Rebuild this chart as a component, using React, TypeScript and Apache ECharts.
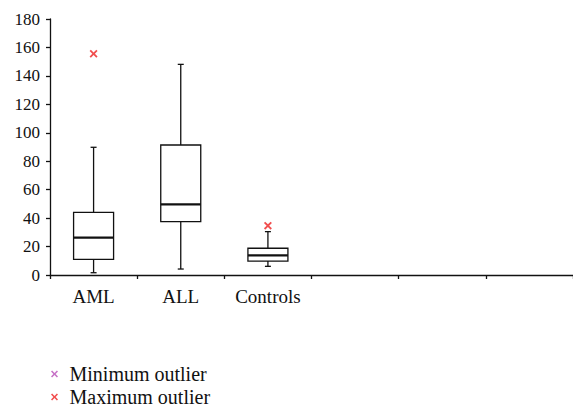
import React, { useEffect, useRef } from "react";
import * as echarts from "echarts";

const categories = ["AML", "ALL", "Controls", "", "", ""];
// [categoryIndex, min, q1, median, q3, max]
const boxData = [
  [0, 1.6, 11.0, 26.3, 44.1, 89.8],
  [1, 4.2, 37.5, 49.7, 91.4, 148.1],
  [2, 6.1, 9.8, 13.8, 18.8, 30.5],
];
const maxOutliers = [
  [0, 155.6],
  [2, 34.7],
];
const minOutliers: number[][] = [];
const yTicks = { min: 0, max: 180, interval: 20 };

const FONT = "Liberation Serif, DejaVu Serif, serif";
const X_PATH =
  "path://M0,1.6 L1.6,0 L5,3.4 L8.4,0 L10,1.6 L6.6,5 L10,8.4 L8.4,10 L5,6.6 L1.6,10 L0,8.4 L3.4,5 Z";

export default function App() {
  const ref = useRef<HTMLDivElement>(null);
  useEffect(() => {
    if (!ref.current) return;
    const chart = echarts.init(ref.current, undefined, { renderer: "svg" });
    chart.setOption({
      animation: false,
      backgroundColor: "#ffffff",
      textStyle: { fontFamily: FONT },
      grid: { left: 50, right: 0, top: 19, bottom: 134, containLabel: false },
      legend: {
        orient: "vertical",
        left: 46,
        top: 359,
        height: 60,
        itemWidth: 20,
        itemHeight: 7,
        itemGap: 3,
        textStyle: { fontFamily: FONT, fontSize: 20, color: "#111", lineHeight: 20 },
        data: [
          { name: "Minimum outlier", icon: X_PATH, itemStyle: { color: "#b84fb8" } },
          { name: "Maximum outlier", icon: X_PATH, itemStyle: { color: "#ee2222" } },
        ],
      },
      xAxis: {
        type: "category",
        data: categories,
        boundaryGap: true,
        axisLine: { lineStyle: { color: "#111", width: 1.3 } },
        axisTick: { show: true, length: 4, interval: 0, lineStyle: { color: "#111", width: 1.3 } },
        axisLabel: { fontFamily: FONT, fontSize: 19, color: "#111", margin: 12, interval: 0 },
        splitLine: { show: false },
      },
      yAxis: {
        type: "value",
        min: yTicks.min,
        max: yTicks.max,
        interval: yTicks.interval,
        axisLine: { show: true, lineStyle: { color: "#111", width: 1.3 } },
        axisTick: { show: true, length: 4, lineStyle: { color: "#111", width: 1.3 } },
        axisLabel: { fontFamily: FONT, fontSize: 17, color: "#111", margin: 10 },
        splitLine: { show: false },
      },
      series: [
        {
          type: "custom",
          name: "box",
          data: boxData,
          renderItem: (params: any, api: any) => {
            const idx = api.value(0);
            const vals = [1, 2, 3, 4, 5].map((i) => api.value(i));
            const pts = vals.map((v) => api.coord([idx, v]));
            const cx = pts[0][0];
            const half = 20;
            const cap = 3;
            const stroke = { stroke: "#111", lineWidth: 1.3, fill: "none" };
            return {
              type: "group",
              children: [
                { type: "line", shape: { x1: cx, y1: pts[0][1], x2: cx, y2: pts[1][1] }, style: stroke },
                { type: "line", shape: { x1: cx, y1: pts[3][1], x2: cx, y2: pts[4][1] }, style: stroke },
                { type: "line", shape: { x1: cx - cap, y1: pts[0][1], x2: cx + cap, y2: pts[0][1] }, style: stroke },
                { type: "line", shape: { x1: cx - cap, y1: pts[4][1], x2: cx + cap, y2: pts[4][1] }, style: stroke },
                {
                  type: "rect",
                  shape: { x: cx - half, y: pts[3][1], width: half * 2, height: pts[1][1] - pts[3][1] },
                  style: { stroke: "#111", lineWidth: 1.3, fill: "#fff" },
                },
                {
                  type: "line",
                  shape: { x1: cx - half, y1: pts[2][1], x2: cx + half, y2: pts[2][1] },
                  style: { stroke: "#111", lineWidth: 2.2 },
                },
              ],
            };
          },
          z: 2,
        },
        {
          type: "scatter",
          name: "Minimum outlier",
          data: minOutliers,
          symbol: X_PATH,
          symbolSize: 8,
          itemStyle: { color: "#b84fb8" },
          z: 3,
        },
        {
          type: "scatter",
          name: "Maximum outlier",
          data: maxOutliers,
          symbol: X_PATH,
          symbolSize: 8,
          itemStyle: { color: "#ee2222" },
          z: 3,
        },
      ],
    });
    return () => chart.dispose();
  }, []);
  return <div ref={ref} style={{ width: 573, height: 409, position: "absolute", left: 0, top: 0 }} />;
}
